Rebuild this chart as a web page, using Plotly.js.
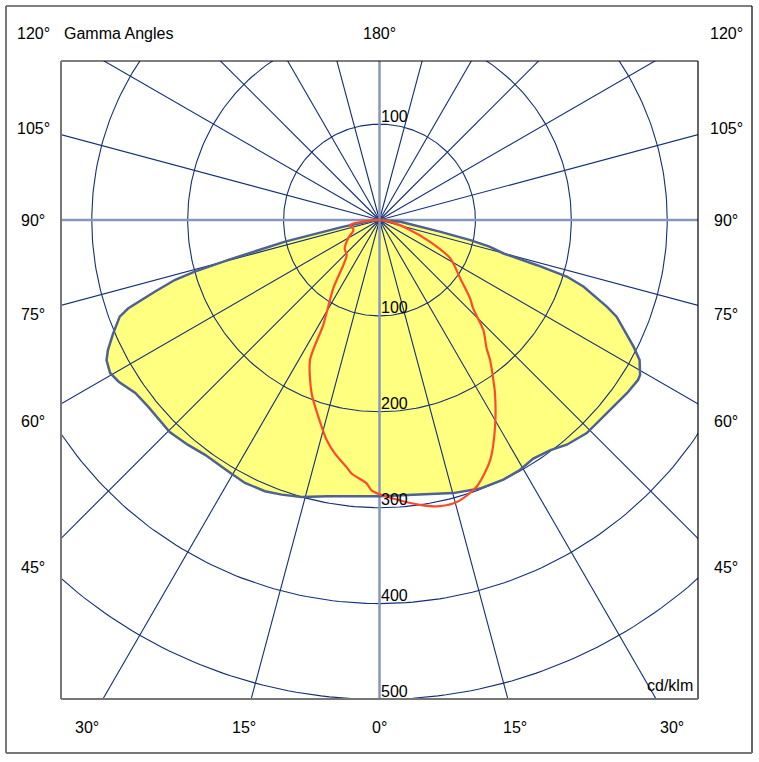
<!DOCTYPE html>
<html><head><meta charset="utf-8">
<script src="https://cdn.plot.ly/plotly-3.0.1.min.js"></script>
<style>html,body{margin:0;padding:0;background:#fff}#chart{width:759px;height:762px}</style>
</head><body><div id="chart"></div>
<script>
// ---- data (cd/klm vs gamma angle, degrees) ----
const gammaYellowLeft = [0, 10.5, 15.7, 19.6, 22.9, 27.1, 31.0, 36.6, 40.4, 44.7, 48.1, 51.1, 54.7, 58.2, 60.4, 62.8, 64.4, 66.9, 69.6, 70.6, 72.3, 73.7, 74.4, 75.2, 77.1, 78.2, 79.5, 85, 90];
const rYellowLeft     = [288, 293, 300, 304, 307, 308, 306, 305, 308, 311, 310, 310, 312, 320, 323, 320, 314, 302, 289, 278, 246, 222, 200, 163, 101, 60, 38, 8, 0];
const gammaYellowRight = [0, 7.0, 15.1, 20.5, 25.5, 29.3, 32.8, 36.6, 39.8, 44.2, 47.8, 51.4, 55.0, 58.3, 59.3, 61.7, 63.5, 67.8, 69.1, 71.9, 73.2, 74.0, 74.9, 76.4, 77.5, 79.1, 85, 90];
const rYellowRight     = [288, 289, 295, 299, 300, 299, 296, 299, 305, 310, 310, 312, 315, 317, 316, 308, 296, 267, 254, 224, 204, 171, 134, 118, 97, 64, 22, 0];
const gammaRedLeft = [0, 1.7, 2.8, 6.3, 7.6, 10.8, 13.5, 15.6, 21.4, 26.4, 28.2, 34.1, 38.8, 43.1, 50.6, 59.6, 69.1, 80.4, 85.5, 90];
const rRedLeft     = [286, 282, 275, 266, 260, 248, 236, 224, 194, 163, 124, 86, 60, 50, 47, 38, 29, 31, 13, 0];
const gammaRedRight = [0, 3.5, 8.1, 11.9, 15.3, 20.0, 24.7, 29.2, 33.7, 35.4, 38.3, 39.9, 43.3, 46.7, 49.1, 54.1, 61.5, 66.8, 73.0, 80.8, 90];
const rRedRight     = [286, 292, 300, 305, 305, 296, 276, 247, 217, 205, 186, 174, 158, 134, 125, 104, 84, 57, 30, 11, 0];

const circleRadii  = [100, 200, 300, 400, 500];
const radiusLabels = ['100', '200', '300', '400', '500'];
const topRadiusLabel = '100';
const radialAngles = [15, 30, 45, 60, 75, 105, 120, 135, 150, 165, 195, 210, 225, 240, 255, 285, 300, 315, 330, 345];
const axisAngles   = [0, 90, 180, 270];
const angleLabelsLeft  = ['105°', '90°', '75°', '60°', '45°'];
const angleLabelsBottom = ['30°', '15°', '0°', '15°', '30°'];
const cornerLabel = '120°';
const topLabel = '180°';
const titleText = 'Gamma Angles';
const unitText = 'cd/klm';

// ---- helpers ----
const D = Math.PI / 180;
function polar(gArr, rArr, side) {
  const x = [], y = [];
  for (let i = 0; i < gArr.length; i++) {
    x.push(side * rArr[i] * Math.sin(gArr[i] * D));
    y.push(-rArr[i] * Math.cos(gArr[i] * D));
  }
  return {x, y};
}
const L = polar(gammaYellowLeft, rYellowLeft, -1);
const R = polar(gammaYellowRight, rYellowRight, 1);
const yellowX = L.x.slice().reverse().concat(R.x.slice(1));
const yellowY = L.y.slice().reverse().concat(R.y.slice(1));
const RL = polar(gammaRedLeft, rRedLeft, -1);
const RR = polar(gammaRedRight, rRedRight, 1);
const redX = RL.x.slice().reverse().concat(RR.x.slice(1));
const redY = RL.y.slice().reverse().concat(RR.y.slice(1));

function spokes(angles, len) {
  const x = [], y = [];
  angles.forEach(a => { x.push(0, len * Math.sin(a * D), null); y.push(0, -len * Math.cos(a * D), null); });
  return {x, y};
}
function circles(radii) {
  const x = [], y = [];
  radii.forEach(r => { for (let t = 0; t <= 360; t += 1) { x.push(r * Math.sin(t * D)); y.push(-r * Math.cos(t * D)); } x.push(null); y.push(null); });
  return {x, y};
}
const sp = spokes(radialAngles, 800);
const ax = spokes(axisAngles, 800);
const ci = circles(circleRadii);

const NAVY = '#142f75';
const traces = [
  {x: yellowX, y: yellowY, mode: 'lines', fill: 'toself', fillcolor: '#ffff80', line: {width: 0, color: 'rgba(0,0,0,0)'}, hoverinfo: 'skip'},
  {x: ci.x, y: ci.y, mode: 'lines', line: {color: NAVY, width: 1.1}, hoverinfo: 'skip'},
  {x: sp.x, y: sp.y, mode: 'lines', line: {color: NAVY, width: 1.1}, hoverinfo: 'skip'},
  {x: ax.x, y: ax.y, mode: 'lines', line: {color: '#8797b9', width: 2.5}, hoverinfo: 'skip'},
  {x: yellowX, y: yellowY, mode: 'lines', line: {color: '#4d6192', width: 2.5}, hoverinfo: 'skip'},
  {x: redX, y: redY, mode: 'lines', line: {color: '#ff4a2a', width: 2.2, shape: 'spline', smoothing: 0.7}, hoverinfo: 'skip'}
];

// pixel -> paper helpers (plot area 61..698 x 61..699)
const PX = x => (x - 61) / 637;
const PY = y => (699 - y) / 638;
const FONT = {family: 'Liberation Sans, Arial, sans-serif', size: 16, color: '#000'};
const ann = [];
function label(text, x, y, xa) { ann.push({text, x: PX(x), y: PY(y), xref: 'paper', yref: 'paper', showarrow: false, xanchor: xa || 'center', yanchor: 'middle', font: FONT}); }
label(cornerLabel, 33, 33);
label(cornerLabel, 726.5, 33);
label(titleText, 62, 33, 'left');
label(topLabel, 380, 33);
const sideY = [128, 220, 314, 421.5, 567.5];
angleLabelsLeft.forEach((t, i) => { label(t, 33, sideY[i]); label(t, 726.5, sideY[i]); });
const bottomX = [87, 244.3, 380, 515.3, 672.3];
angleLabelsBottom.forEach((t, i) => label(t, bottomX[i], 727.5));
label(unitText, 695, 685, 'right');
// radius labels through the data axes
radiusLabels.forEach((t, i) => ann.push({text: t, x: 1, y: -circleRadii[i] + 1.5, yshift: -3, xref: 'x', yref: 'y', showarrow: false, xanchor: 'left', yanchor: 'bottom', font: FONT, borderpad: 0}));
ann.push({text: topRadiusLabel, x: 1, y: circleRadii[0] + 1.5, yshift: -3, xref: 'x', yref: 'y', showarrow: false, xanchor: 'left', yanchor: 'bottom', font: FONT, borderpad: 0});

const shapes = [
  // outer frame
  {type: 'line', xref: 'paper', yref: 'paper', x0: PX(6), x1: PX(752), y0: PY(6), y1: PY(6), line: {color: '#000', width: 1.2}},
  {type: 'line', xref: 'paper', yref: 'paper', x0: PX(752), x1: PX(752), y0: PY(6), y1: PY(753), line: {color: '#000', width: 1.2}},
  {type: 'line', xref: 'paper', yref: 'paper', x0: PX(6), x1: PX(6), y0: PY(6), y1: PY(753), line: {color: '#777', width: 2}},
  {type: 'line', xref: 'paper', yref: 'paper', x0: PX(6), x1: PX(752), y0: PY(753), y1: PY(753), line: {color: '#777', width: 2}},
  // plot frame
  {type: 'line', xref: 'paper', yref: 'paper', x0: 0, x1: 1, y0: 1, y1: 1, line: {color: '#000', width: 1.2}},
  {type: 'line', xref: 'paper', yref: 'paper', x0: 1, x1: 1, y0: 0, y1: 1, line: {color: '#000', width: 1.2}},
  {type: 'line', xref: 'paper', yref: 'paper', x0: 0, x1: 0, y0: 0, y1: 1, line: {color: '#777', width: 2}},
  {type: 'line', xref: 'paper', yref: 'paper', x0: 0, x1: 1, y0: 0, y1: 0, line: {color: '#777', width: 2}}
];

const hidden = {showgrid: false, zeroline: false, showticklabels: false, ticks: '', showline: false, fixedrange: true};
const layout = {
  width: 759, height: 762,
  margin: {l: 61, r: 61, t: 61, b: 63, pad: 0},
  paper_bgcolor: '#fff', plot_bgcolor: '#fff',
  showlegend: false,
  xaxis: Object.assign({range: [-332.1, 332.1]}, hidden),
  yaxis: Object.assign({range: [-499.5, 165.8]}, hidden),
  annotations: ann,
  shapes: shapes
};
Plotly.newPlot('chart', traces, layout, {staticPlot: true, displayModeBar: false});
</script></body></html>
